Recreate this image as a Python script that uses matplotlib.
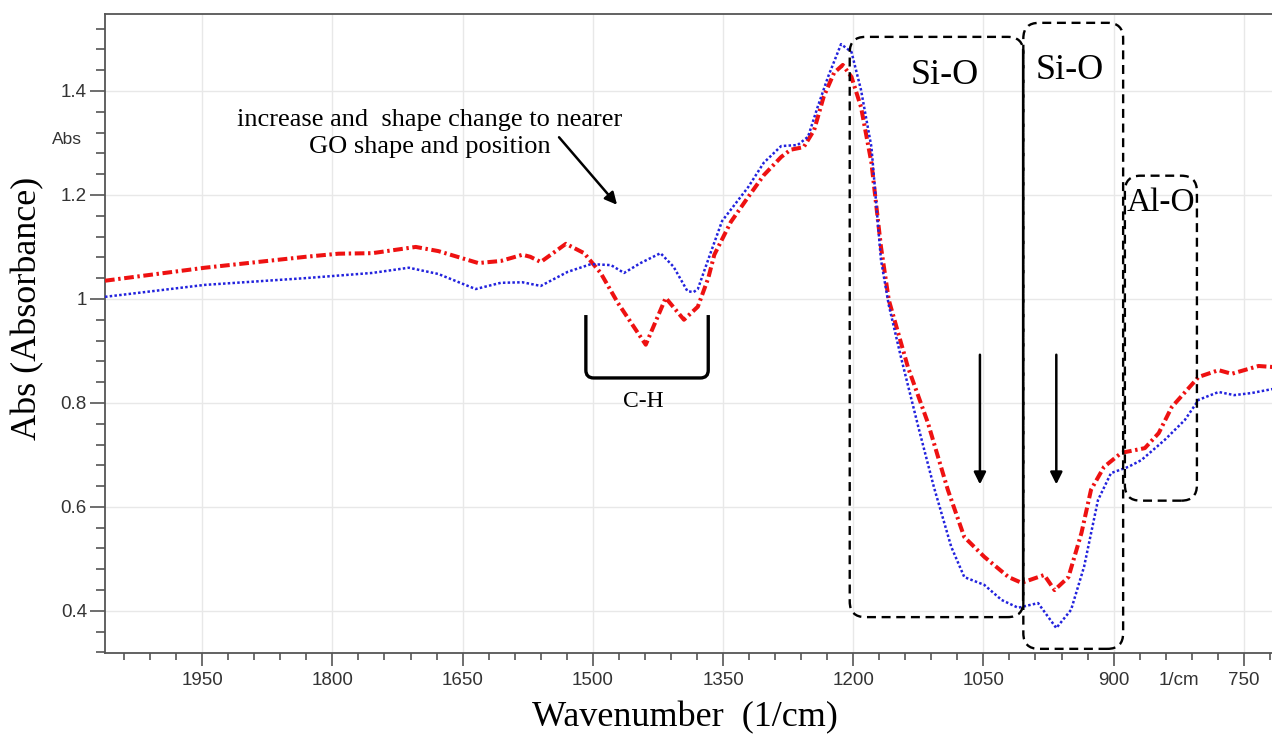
import numpy as np
import matplotlib.pyplot as plt
from matplotlib.patches import FancyBboxPatch, PathPatch
from matplotlib.path import Path
from matplotlib.ticker import MultipleLocator

# -----------------------------
# spectra
# -----------------------------
red_x = [2062, 1947, 1831, 1793, 1754, 1704, 1678, 1632, 1606, 1581, 1572, 1560,
         1531, 1510, 1491, 1471, 1439, 1416, 1395, 1379, 1367, 1360, 1341, 1321,
         1303, 1283, 1272, 1257, 1245, 1234, 1222, 1212, 1202, 1191, 1179, 1168,
         1159, 1137, 1114, 1091, 1072, 1049, 1021, 1006, 980, 968, 952, 937, 926,
         911, 891, 864, 848, 833, 802, 779, 764, 733, 716]
red_y = [1.035, 1.06, 1.081, 1.087, 1.088, 1.10, 1.092, 1.069, 1.073, 1.085, 1.081, 1.071,
         1.106, 1.088, 1.05, 0.992, 0.912, 1.002, 0.96, 0.985, 1.04, 1.085, 1.148, 1.196,
         1.238, 1.273, 1.287, 1.292, 1.325, 1.389, 1.435, 1.45, 1.427, 1.369, 1.262, 1.10,
         0.998, 0.869, 0.762, 0.633, 0.542, 0.504, 0.465, 0.454, 0.469, 0.44, 0.465, 0.55, 0.633,
         0.677, 0.704, 0.713, 0.742, 0.792, 0.85, 0.863, 0.856, 0.871, 0.869]

blue_x = [2062, 1947, 1831, 1754, 1712, 1678, 1635, 1606, 1581, 1560, 1529, 1502,
          1479, 1464, 1445, 1422, 1407, 1391, 1384, 1379, 1364, 1351, 1321, 1303,
          1283, 1264, 1252, 1241, 1229, 1214, 1202, 1191, 1179, 1168, 1159, 1145,
          1125, 1107, 1087, 1072, 1049, 1029, 1010, 987, 966, 949, 934, 918, 903,
          883, 868, 841, 818, 802, 779, 761, 741, 716]
blue_y = [1.004, 1.027, 1.04, 1.05, 1.06, 1.048, 1.019, 1.031, 1.032, 1.025, 1.052, 1.067,
          1.065, 1.05, 1.069, 1.088, 1.062, 1.015, 1.013, 1.019, 1.09, 1.15, 1.215, 1.262,
          1.294, 1.296, 1.312, 1.369, 1.427, 1.49, 1.475, 1.402, 1.292, 1.075, 0.988, 0.888,
          0.754, 0.638, 0.523, 0.465, 0.45, 0.421, 0.406, 0.415, 0.367, 0.402, 0.485, 0.613, 0.665,
          0.677, 0.69, 0.729, 0.767, 0.806, 0.821, 0.815, 0.819, 0.827]

x_ticks = [1950, 1800, 1650, 1500, 1350, 1200, 1050, 900, 750]
y_ticks = [0.4, 0.6, 0.8, 1.0, 1.2, 1.4]
y_tick_labels = ["0.4", "0.6", "0.8", "1", "1.2", "1.4"]

# band boxes: (label, x_high, x_low, y_low, y_high, label_x, label_y, size)
bands = [
    ("Si-O", 1204, 1004, 0.388, 1.504, 1095, 1.43, 26),
    ("Si-O", 1004, 889, 0.327, 1.531, 950, 1.44, 26),
    ("Al-O", 887, 804, 0.612, 1.237, 846, 1.185, 24),
]

SERIF = "Liberation Serif"
SANS = "Liberation Sans"
TICK_COLOR = "#333333"
SPINE_COLOR = "#555555"

fig = plt.figure(figsize=(12.72, 7.39), dpi=100)
ax = fig.add_axes([105 / 1272, 86 / 739, 1167 / 1272, 639 / 739])

ax.plot(red_x, red_y, color="#ee1111", lw=2.9,
        linestyle=(0, (2.4, 0.9, 0.6, 0.9)), zorder=3)
ax.plot(blue_x, blue_y, color="#2222dd", lw=1.8,
        linestyle=(0, (1, 0.9)), zorder=3)

ax.set_xlim(2062, 717.5)
ax.set_ylim(0.319, 1.548)

ax.set_xticks(x_ticks)
ax.set_yticks(y_ticks)
ax.set_yticklabels(y_tick_labels)
ax.xaxis.set_minor_locator(MultipleLocator(30))
ax.yaxis.set_minor_locator(MultipleLocator(0.04))
ax.grid(True, which="major", color="#e8e8e8", lw=1)
ax.set_axisbelow(True)

ax.tick_params(axis="x", which="major", length=9, width=1.2, color=SPINE_COLOR,
               labelsize=13.5, labelcolor=TICK_COLOR, pad=5)
ax.tick_params(axis="x", which="minor", length=5, width=1.2, color=SPINE_COLOR)
ax.tick_params(axis="y", which="major", length=11, width=1.2, color=SPINE_COLOR,
               labelsize=13.5, labelcolor=TICK_COLOR, pad=2)
ax.tick_params(axis="y", which="minor", length=6.5, width=1.2, color=SPINE_COLOR)
for lab in ax.get_xticklabels() + ax.get_yticklabels():
    lab.set_family(SANS)

for side in ["left", "top", "bottom"]:
    ax.spines[side].set_color(SPINE_COLOR)
    ax.spines[side].set_linewidth(1.3)
ax.spines["right"].set_visible(False)

# unit label in tick row (same offset as tick labels: length + pad)
ax.text(825, -(14 * 100 / 72) / 639, "1/cm", transform=ax.get_xaxis_transform(),
        ha="center", va="top", fontsize=13.5, color=TICK_COLOR, family=SANS)

fig.text(67 / 1272, 1 - 140 / 739, "Abs", ha="center", va="center",
         fontsize=12.5, color=TICK_COLOR, family=SANS)
fig.text(28 / 1272, 1 - 308 / 739, "Abs (Absorbance)", rotation=90,
         ha="center", va="center", fontsize=26, family=SERIF)
fig.text(685 / 1272, 1 - 718 / 739, "Wavenumber  (1/cm)", ha="center",
         va="center", fontsize=26, family=SERIF)

# -----------------------------
# annotations
# -----------------------------
ax.text(1688, 1.318, "increase and  shape change to nearer\nGO shape and position",
        ha="center", va="center", fontsize=19, family=SERIF, linespacing=1.3)
ax.annotate("", xy=(1470, 1.177), xytext=(1541, 1.315),
            arrowprops=dict(arrowstyle="-|>", color="k", lw=1.8, mutation_scale=18))

# C-H bracket
xl, xr, yt, yb = 1508, 1367, 0.969, 0.848
rx, ry = 9, 0.015
verts = [(xl, yt), (xl, yb + ry), (xl, yb), (xl - rx, yb), (xr + rx, yb),
         (xr, yb), (xr, yb + ry), (xr, yt)]
codes = [Path.MOVETO, Path.LINETO, Path.CURVE3, Path.CURVE3, Path.LINETO,
         Path.CURVE3, Path.CURVE3, Path.LINETO]
ax.add_patch(PathPatch(Path(verts, codes), fill=False, lw=2.4, color="k", zorder=4))
ax.text(1442, 0.802, "C-H", ha="center", va="center", fontsize=17, family=SERIF)

# dashed band boxes
aspect = 0.8667 / 520
for label, xh, xlo, ylo, yhi, lx, ly, fs in bands:
    box = FancyBboxPatch((xlo, ylo), xh - xlo, yhi - ylo,
                         boxstyle="round,pad=0,rounding_size=18",
                         mutation_aspect=aspect, fill=False, ec="k", lw=1.7,
                         linestyle=(0, (3.8, 2.4)), zorder=4, clip_on=False)
    ax.add_patch(box)
    ax.text(lx, ly, label, ha="center", va="center", fontsize=fs, family=SERIF)

ax.plot([1004, 1004], [1.479, 0.421], color="k", lw=1.6, zorder=4)

for xa in [1054, 966]:
    ax.annotate("", xy=(xa, 0.638), xytext=(xa, 0.898),
                arrowprops=dict(arrowstyle="-|>", color="k", lw=1.8, mutation_scale=18))

fig.savefig("out.png", dpi=100)
